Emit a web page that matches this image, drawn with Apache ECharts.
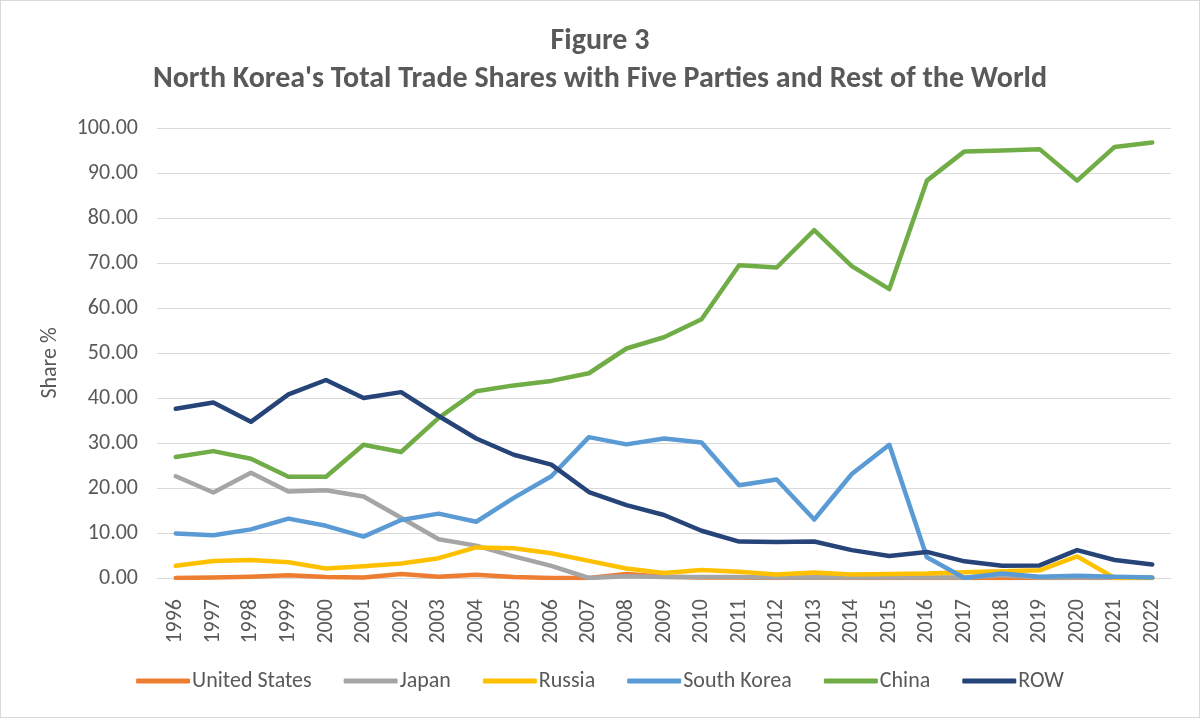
<!DOCTYPE html>
<html>
<head>
<meta charset="utf-8">
<script src="https://cdn.jsdelivr.net/npm/echarts@6/dist/echarts.min.js"></script>
<style>
html,body{margin:0;padding:0;background:#fff;}
#c{width:1198px;height:716px;border:1px solid #d9d9d9;}
</style>
</head>
<body>
<div id="c"></div>
<script>
const years = ['1996','1997','1998','1999','2000','2001','2002','2003','2004','2005','2006','2007','2008','2009','2010','2011','2012','2013','2014','2015','2016','2017','2018','2019','2020','2021','2022'];
const unitedStates = [0.0,0.1,0.3,0.6,0.2,0.1,0.9,0.3,0.7,0.2,0.0,0.0,0.9,0.3,0.1,0.1,0.0,0.1,0.0,0.0,0.0,0.0,0.0,0.0,0.0,0.0,0.0];
const japan = [22.6,19.0,23.4,19.2,19.5,18.1,13.4,8.6,7.2,4.8,2.7,0.0,0.4,0.2,0.2,0.2,0.1,0.1,0.1,0.1,0.1,0.1,0.6,0.1,0.1,0.1,0.0];
const russia = [2.7,3.8,4.0,3.5,2.1,2.6,3.2,4.4,6.8,6.6,5.5,3.8,2.1,1.1,1.8,1.4,0.8,1.2,0.8,0.9,1.0,1.3,1.5,1.7,4.8,0.0,0.0];
const southKorea = [9.9,9.5,10.8,13.2,11.6,9.2,12.9,14.3,12.5,17.8,22.6,31.3,29.7,31.0,30.1,20.6,21.9,13.0,23.1,29.6,4.6,0.0,1.0,0.3,0.5,0.3,0.1];
const china = [26.9,28.2,26.5,22.5,22.5,29.6,28.0,35.6,41.5,42.8,43.8,45.5,51.0,53.5,57.5,69.5,69.0,77.3,69.3,64.2,88.3,94.8,95.0,95.3,88.3,95.8,96.8];
const row = [37.6,39.0,34.7,40.8,44.0,40.0,41.3,36.0,31.0,27.4,25.2,19.1,16.2,14.0,10.5,8.1,8.0,8.1,6.2,4.9,5.8,3.7,2.7,2.8,6.2,4.0,3.0];
const seriesNames = ['United States','Japan','Russia','South Korea','China','ROW'];
const seriesData = [unitedStates, japan, russia, southKorea, china, row];
const colors = ['#ED7D31','#A5A5A5','#FFC000','#5B9BD5','#70AD47','#264478'];
const font = 'Calibri, Carlito, "Open Sans", "Liberation Sans", sans-serif';

const chart = echarts.init(document.getElementById('c'));
chart.setOption({
  animation: false,
  color: colors,
  title: {
    text: 'Figure 3\nNorth Korea\'s Total Trade Shares with Five Parties and Rest of the World',
    left: 'center',
    top: 16,
    textStyle: {fontFamily: font, fontSize: 30, fontWeight: 'bold', color: '#595959', lineHeight: 38}
  },
  legend: {
    top: 664,
    left: 'center',
    itemWidth: 54,
    itemHeight: 5,
    itemGap: 32,
    icon: 'roundRect',
    textStyle: {fontFamily: font, fontSize: 22, color: '#595959', padding: [0,0,0,-3]},
    data: seriesNames
  },
  grid: {left: 156, right: 28, top: 127, bottom: 139, containLabel: false},
  xAxis: {
    type: 'category',
    data: years,
    boundaryGap: true,
    axisLine: {lineStyle: {color: '#D9D9D9', width: 1}},
    axisTick: {show: false},
    axisLabel: {rotate: 90, fontFamily: font, fontSize: 22, color: '#595959', margin: 21}
  },
  yAxis: {
    type: 'value',
    min: 0,
    max: 100,
    interval: 10,
    name: 'Share %',
    nameLocation: 'middle',
    nameGap: 96,
    nameTextStyle: {fontFamily: font, fontSize: 22, color: '#595959', padding: [0, 20, 0, 0]},
    axisLine: {show: false},
    axisTick: {show: false},
    axisLabel: {fontFamily: font, fontSize: 22, color: '#595959', margin: 19, formatter: v => v.toFixed(2)},
    splitLine: {lineStyle: {color: '#D9D9D9', width: 1}}
  },
  series: seriesNames.map((n, i) => ({
    name: n,
    type: 'line',
    data: seriesData[i],
    symbol: 'none',
    lineStyle: {width: 4.5, color: colors[i], cap: 'round', join: 'round'},
    itemStyle: {color: colors[i]}
  }))
});
</script>
</body>
</html>
